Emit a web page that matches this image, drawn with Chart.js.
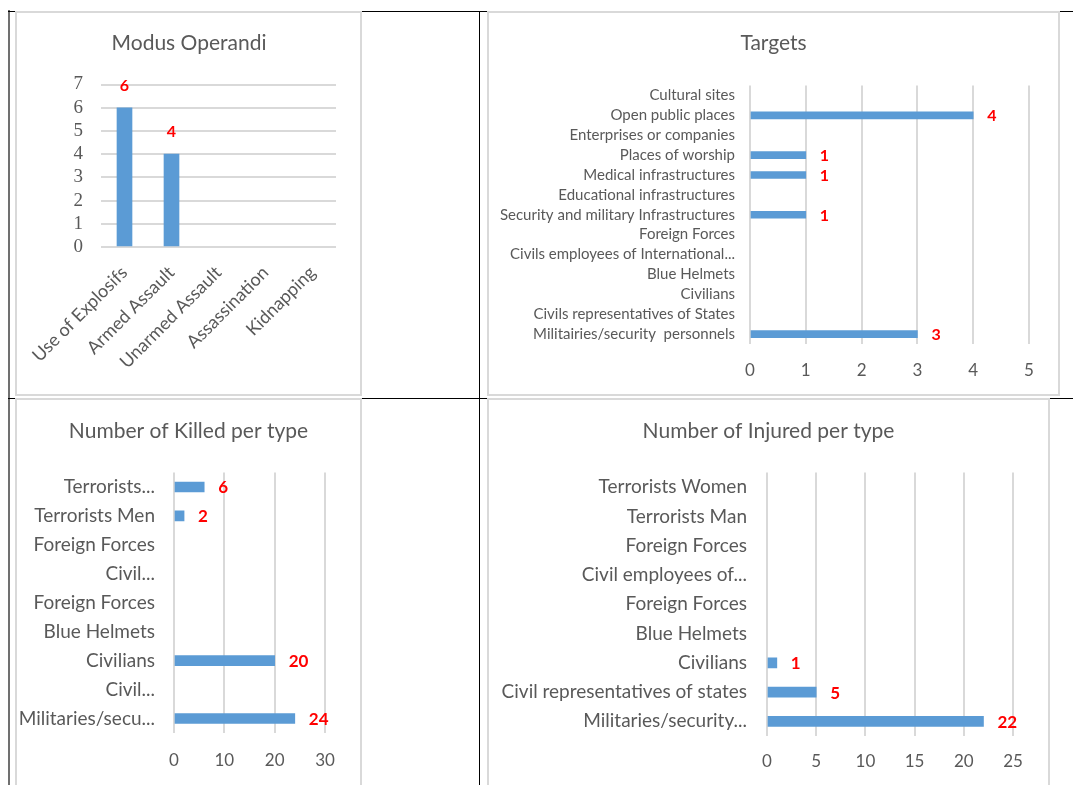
<!DOCTYPE html>
<html>
<head>
<meta charset="utf-8">
<script src="https://cdn.jsdelivr.net/npm/chart.js@4.4.1/dist/chart.umd.min.js"></script>
<style>
  html, body { margin: 0; padding: 0; background: #fff; }
  #page { position: relative; width: 1073px; height: 785px; overflow: hidden; background: #fff; }
  .line { position: absolute; background: #000; }
  .box { position: absolute; background: #fff; border: 2px solid #d9d9d9; box-sizing: border-box; }
  canvas { position: absolute; }
</style>
</head>
<body>
<div id="page">
  <!-- table lines -->
  <div class="line" style="left:8px;top:10px;width:2px;height:775px;background:#707070"></div>
  <div class="line" style="left:8px;top:11px;width:1065px;height:1px"></div>
  <div class="line" style="left:8px;top:398px;width:1065px;height:1px"></div>
  <div class="line" style="left:479px;top:11px;width:1px;height:774px"></div>

  <!-- chart boxes -->
  <div class="box" style="left:15px;top:11px;width:347px;height:385px"></div>
  <div class="box" style="left:487px;top:11px;width:573px;height:385px"></div>
  <div class="box" style="left:15px;top:398px;width:347px;height:390px"></div>
  <div class="box" style="left:487px;top:398px;width:563px;height:390px"></div>

  <canvas id="modusChart" width="344" height="382" style="left:17px;top:13px"></canvas>
  <canvas id="targetsChart" width="569" height="382" style="left:489px;top:13px"></canvas>
  <canvas id="killedChart" width="343" height="385" style="left:17px;top:400px"></canvas>
  <canvas id="injuredChart" width="559" height="385" style="left:489px;top:400px"></canvas>
</div>
<script>
// Modus Operandi
const modusLabels = ['Use of Explosifs', 'Armed Assault', 'Unarmed Assault', 'Assassination', 'Kidnapping'];
const modusValues = [6, 4, 0, 0, 0];
const modusTicks = [0, 1, 2, 3, 4, 5, 6, 7];

// Targets
const targetLabels = [
  'Cultural sites', 'Open public places', 'Enterprises or companies', 'Places of worship',
  'Medical infrastructures', 'Educational infrastructures', 'Security and military Infrastructures',
  'Foreign Forces', 'Civils employees of International...', 'Blue Helmets', 'Civilians',
  'Civils representatives of States', 'Militairies/security  personnels'
];
const targetValues = [0, 4, 0, 1, 1, 0, 1, 0, 0, 0, 0, 0, 3];
const targetTicks = [0, 1, 2, 3, 4, 5];

// Killed
const killedLabels = [
  'Terrorists...', 'Terrorists Men', 'Foreign Forces', 'Civil...', 'Foreign Forces',
  'Blue Helmets', 'Civilians', 'Civil...', 'Militaries/secu...'
];
const killedValues = [6, 2, 0, 0, 0, 0, 20, 0, 24];
const killedTicks = [0, 10, 20, 30];

// Injured
const injuredLabels = [
  'Terrorists Women', 'Terrorists Man', 'Foreign Forces', 'Civil employees of...', 'Foreign Forces',
  'Blue Helmets', 'Civilians', 'Civil representatives of states', 'Militaries/security...'
];
const injuredValues = [0, 0, 0, 0, 0, 0, 1, 5, 22];
const injuredTicks = [0, 5, 10, 15, 20, 25];

const BLUE = '#5b9bd5';
const TEXT = '#595959';
const GRID = '#d9d9d9';
const FONT = 'Lato';

// empty categories get no bar at all
const bars = values => values.map(v => (v ? v : null));

// title centred on the whole chart box (the built-in one is centred between the paddings)
const boxTitle = {
  id: 'boxTitle',
  afterDraw(chart, args, opts) {
    const ctx = chart.ctx;
    ctx.save();
    ctx.fillStyle = TEXT;
    ctx.font = '21px ' + FONT;
    ctx.textAlign = 'center';
    ctx.textBaseline = 'middle';
    ctx.fillText(opts.text, chart.width / 2, opts.y);
    ctx.restore();
  }
};

// red value labels next to / above the bars
const valueLabels = {
  id: 'valueLabels',
  afterDatasetsDraw(chart, args, opts) {
    const ctx = chart.ctx;
    const data = chart.data.datasets[0].data;
    const horiz = chart.options.indexAxis === 'y';
    ctx.save();
    ctx.fillStyle = '#ff0000';
    ctx.font = 'bold ' + opts.size + 'px ' + FONT;
    ctx.textBaseline = 'middle';
    chart.getDatasetMeta(0).data.forEach((bar, i) => {
      if (!data[i]) return;
      if (horiz) {
        ctx.textAlign = 'left';
        ctx.fillText(data[i], bar.x + opts.offset, bar.y + 1);
      } else {
        ctx.textAlign = 'center';
        ctx.fillText(data[i], bar.x, bar.y - opts.offset);
      }
    });
    ctx.restore();
  }
};

// Modus Operandi - vertical bars
new Chart(document.getElementById('modusChart'), {
  type: 'bar',
  data: {
    labels: modusLabels,
    datasets: [{ data: bars(modusValues), backgroundColor: BLUE, barThickness: 15 }]
  },
  plugins: [valueLabels, boxTitle],
  options: {
    responsive: false,
    animation: false,
    layout: { padding: { left: 0, right: 25, top: 71.5, bottom: 0 } },
    plugins: {
      legend: { display: false },
      tooltip: { enabled: false },
      boxTitle: { text: 'Modus Operandi', y: 30 },
      valueLabels: { size: 16, offset: 22 }
    },
    scales: {
      x: {
        grid: { display: false, drawTicks: false },
        border: { display: false },
        ticks: { color: TEXT, font: { family: FONT, size: 18 }, minRotation: 45, maxRotation: 45, padding: 15, autoSkip: false },
        afterFit(scale) {
          scale.height = 148;
          // rotated labels may hang left, do not let them push the plot area
          scale.paddingLeft = 0;
          scale.paddingRight = 0;
        }
      },
      y: {
        min: modusTicks[0],
        max: modusTicks[modusTicks.length - 1],
        afterBuildTicks(scale) { scale.ticks = modusTicks.map(v => ({ value: v })); },
        grid: { color: GRID, lineWidth: 2, drawTicks: false },
        border: { display: false },
        ticks: { color: TEXT, font: { family: 'Liberation Serif', size: 19 }, padding: 18, autoSkip: false },
        afterFit(scale) { scale.width = 84; }
      }
    }
  }
});

function hbarOptions(cfg) {
  return {
    responsive: false,
    animation: false,
    indexAxis: 'y',
    layout: { padding: { left: 0, right: cfg.right, top: cfg.top, bottom: 0 } },
    plugins: {
      legend: { display: false },
      tooltip: { enabled: false },
      boxTitle: { text: cfg.title, y: cfg.titleY },
      valueLabels: { size: cfg.valueSize, offset: 14 }
    },
    scales: {
      x: {
        min: cfg.ticks[0],
        max: cfg.ticks[cfg.ticks.length - 1],
        afterBuildTicks(scale) { scale.ticks = cfg.ticks.map(v => ({ value: v })); },
        grid: { color: GRID, lineWidth: 2, drawTicks: false },
        border: { display: false },
        ticks: { color: TEXT, font: { family: FONT, size: cfg.tickSize }, padding: cfg.tickPad, autoSkip: false },
        afterFit(scale) { scale.height = cfg.xHeight; }
      },
      y: {
        grid: { display: false, drawTicks: false },
        border: { display: false },
        ticks: { color: TEXT, font: { family: FONT, size: cfg.labelSize }, padding: cfg.labelPad, autoSkip: false },
        afterFit(scale) { scale.width = cfg.yWidth; }
      }
    }
  };
}

// Targets
new Chart(document.getElementById('targetsChart'), {
  type: 'bar',
  data: {
    labels: targetLabels,
    datasets: [{ data: bars(targetValues), backgroundColor: BLUE, barThickness: 7 }]
  },
  plugins: [valueLabels, boxTitle],
  options: hbarOptions({
    title: 'Targets', titleY: 30, top: 72.5,
    right: 29, yWidth: 261, labelSize: 15, labelPad: 15,
    ticks: targetTicks, tickSize: 17, tickPad: 16, xHeight: 51, valueSize: 16
  })
});

// Killed
new Chart(document.getElementById('killedChart'), {
  type: 'bar',
  data: {
    labels: killedLabels,
    datasets: [{ data: bars(killedValues), backgroundColor: BLUE, barThickness: 10 }]
  },
  plugins: [valueLabels, boxTitle],
  options: hbarOptions({
    title: 'Number of Killed per type', titleY: 31, top: 72.5,
    right: 35, yWidth: 157, labelSize: 19, labelPad: 19,
    ticks: killedTicks, tickSize: 17, tickPad: 17, xHeight: 52, valueSize: 17
  })
});

// Injured
new Chart(document.getElementById('injuredChart'), {
  type: 'bar',
  data: {
    labels: injuredLabels,
    datasets: [{ data: bars(injuredValues), backgroundColor: BLUE, barThickness: 10 }]
  },
  plugins: [valueLabels, boxTitle],
  options: hbarOptions({
    title: 'Number of Injured per type', titleY: 31, top: 72.5,
    right: 35, yWidth: 278, labelSize: 19, labelPad: 20,
    ticks: injuredTicks, tickSize: 17, tickPad: 15, xHeight: 49, valueSize: 17
  })
});
</script>
</body>
</html>
